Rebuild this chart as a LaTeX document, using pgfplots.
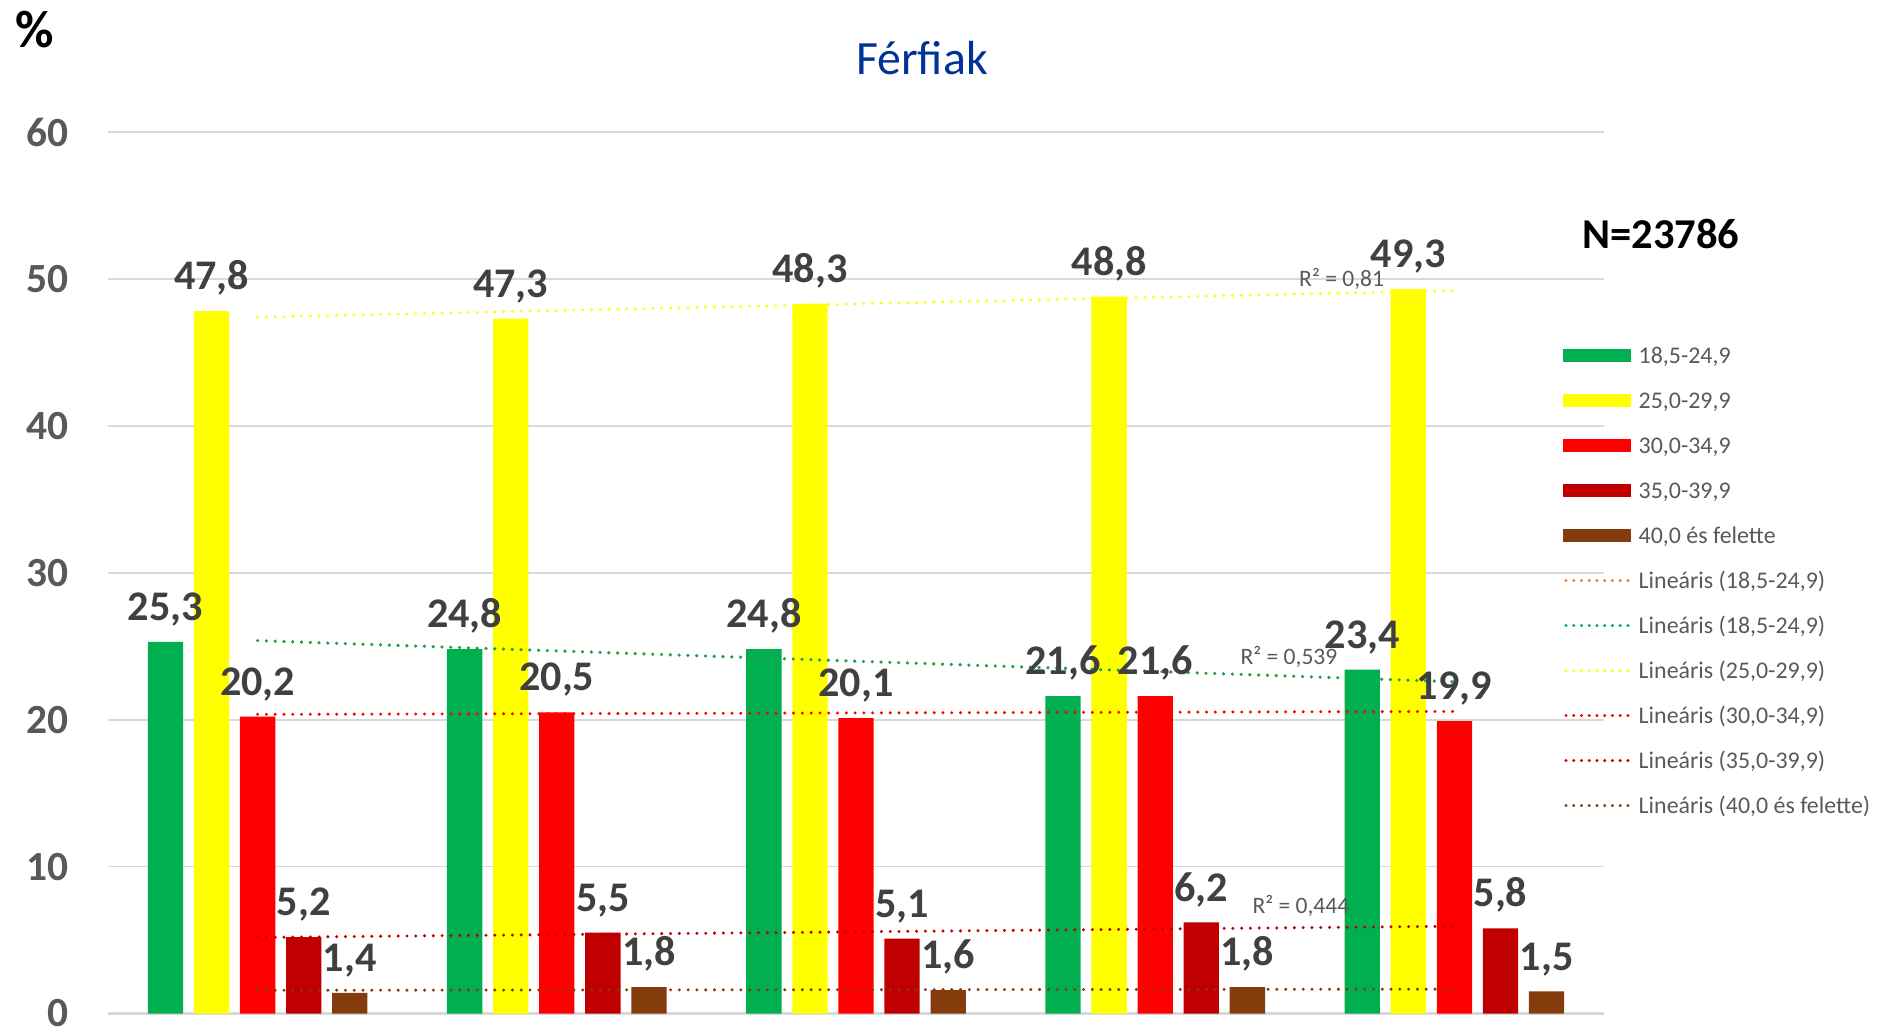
\documentclass[border=0pt]{standalone}
\usepackage{pgfplots}
\pgfplotsset{compat=1.18}
\usepackage{fontspec}
\setmainfont{Carlito}
\definecolor{cgreen}{HTML}{00B050}
\definecolor{cyellow}{HTML}{FFFF00}
\definecolor{cred}{HTML}{FF0000}
\definecolor{cdred}{HTML}{C00000}
\definecolor{cbrown}{HTML}{843C0C}
\definecolor{corange}{HTML}{ED7D31}
\definecolor{lblgray}{HTML}{404040}
\definecolor{tickgray}{HTML}{595959}
\definecolor{gridgray}{HTML}{D9D9D9}
\definecolor{titleblue}{HTML}{003399}
\pgfplotsset{
  barstyle/.style 2 args={ybar, draw=none, fill=#1, bar width=0.118, bar shift=#2,
    nodes near coords={\pgfmathprintnumber[fixed,fixed zerofill,precision=1,use comma,assume math mode=true]{\pgfplotspointmeta}},
    every node near coord/.append style={font=\bfseries\fontsize{12}{14}\selectfont, text=lblgray, anchor=south, inner sep=0pt, yshift=1.5mm, shift={(axis direction cs:#2,0)}},
    legend image code/.code={\fill[#1] (0mm,-0.69mm) rectangle (6.8mm,0.69mm);}},
  trendstyle/.style={no markers, draw=#1, line width=0.95pt, dash pattern=on 0pt off 2.5pt, line cap=round,
    legend image code/.code={\draw[#1, line width=0.95pt, dash pattern=on 0pt off 2.2pt, line cap=round] (0.3mm,0mm) -- (6.8mm,0mm);}},
}
\begin{document}
\begin{tikzpicture}
\useasboundingbox (0,0) rectangle (188.3mm,103mm);
\begin{axis}[
  at={(10.8mm,1.65mm)}, anchor=south west,
  scale only axis, width=149.6mm, height=88.15mm,
  xmin=0.5, xmax=5.5, ymin=0, ymax=60,
  xtick=\empty, ytick={0,10,...,60},
  ymajorgrids, grid style={gridgray, line width=0.5pt},
  axis x line*=bottom, axis y line*=left,
  x axis line style={-, draw=gridgray, line width=0.9pt},
  y axis line style={draw=none},
  tick style={draw=none}, major tick length=0pt,
  /pgf/number format/assume math mode=true,
  yticklabel style={font=\bfseries\fontsize{11.8}{14}\selectfont, text=tickgray, anchor=east, inner sep=0pt, xshift=-3.9mm},
  clip=false,
  legend style={at={(axis description cs:0.9726,0.7623)}, anchor=north west, draw=none, fill=none,
    inner sep=0pt, outer sep=0pt, font=\fontsize{6.8}{8}\selectfont, text=tickgray,
    nodes={inner sep=0pt, text height=2.2mm, text depth=0.6mm}, row sep=1.7mm, column sep=0.6mm},
  legend cell align=left,
]
\addplot[barstyle={cgreen}{-0.308}] coordinates {(1,25.3) (2,24.8) (3,24.8) (4,21.6) (5,23.4)};
\addlegendentry{18,5-24,9}
\addplot[barstyle={cyellow}{-0.154}] coordinates {(1,47.8) (2,47.3) (3,48.3) (4,48.8) (5,49.3)};
\addlegendentry{25,0-29,9}
\addplot[barstyle={cred}{0}] coordinates {(1,20.2) (2,20.5) (3,20.1) (4,21.6) (5,19.9)};
\addlegendentry{30,0-34,9}
\addplot[barstyle={cdred}{0.154}] coordinates {(1,5.2) (2,5.5) (3,5.1) (4,6.2) (5,5.8)};
\addlegendentry{35,0-39,9}
\addplot[barstyle={cbrown}{0.308}] coordinates {(1,1.4) (2,1.8) (3,1.6) (4,1.8) (5,1.5)};
\addlegendentry{40,0 és felette}
\addplot[trendstyle=corange] coordinates {(1,25.38) (5,22.58)};
\addlegendentry{Lineáris (18,5-24,9)}
\addplot[trendstyle=cgreen] coordinates {(1,25.38) (5,22.58)};
\addlegendentry{Lineáris (18,5-24,9)}
\addplot[trendstyle=cyellow] coordinates {(1,47.4) (5,49.2)};
\addlegendentry{Lineáris (25,0-29,9)}
\addplot[trendstyle=cred] coordinates {(1,20.36) (5,20.56)};
\addlegendentry{Lineáris (30,0-34,9)}
\addplot[trendstyle=cdred] coordinates {(1,5.18) (5,5.94)};
\addlegendentry{Lineáris (35,0-39,9)}
\addplot[trendstyle=cbrown] coordinates {(1,1.58) (5,1.66)};
\addlegendentry{Lineáris (40,0 és felette)}
\node[font=\fontsize{6.7}{8}\selectfont, text=tickgray] at (axis cs:4.623,50.0) {R² = 0,81};
\node[font=\fontsize{6.7}{8}\selectfont, text=tickgray] at (axis cs:4.447,24.24) {R² = 0,539};
\node[font=\fontsize{6.7}{8}\selectfont, text=tickgray] at (axis cs:4.487,7.35) {R² = 0,444};
\end{axis}
\node[font=\bfseries\fontsize{15}{18}\selectfont] at (3.45mm,100mm) {\%};
\node[font=\fontsize{13.6}{16}\selectfont, text=titleblue] at (92.2mm,97.2mm) {Férfiak};
\node[font=\bfseries\fontsize{12.1}{14}\selectfont] at (166.1mm,79.6mm) {N=23786};
\end{tikzpicture}
\end{document}
